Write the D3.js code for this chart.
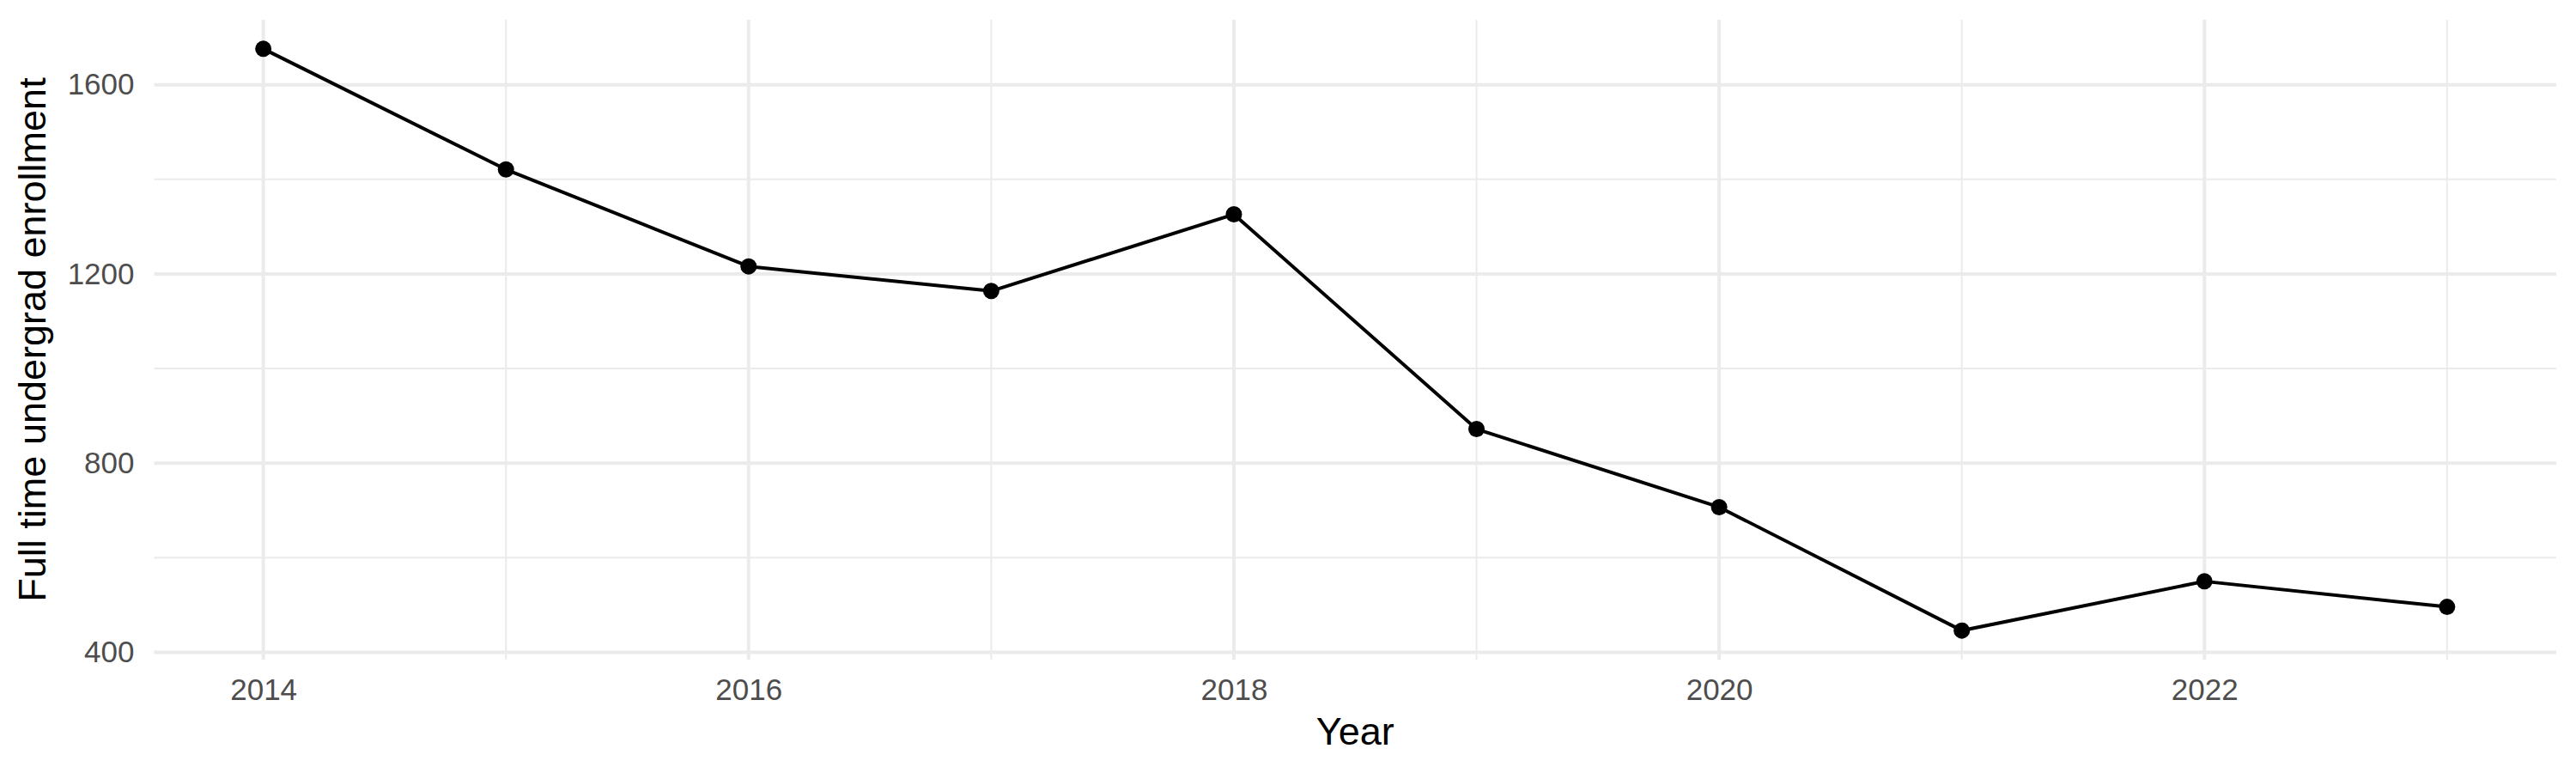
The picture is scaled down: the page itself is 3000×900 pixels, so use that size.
<!DOCTYPE html>
<html>
<head>
<meta charset="utf-8">
<script src="https://cdn.jsdelivr.net/npm/d3@7"></script>
<style>
  body { margin: 0; background: #fff; }
  text { font-family: 'Liberation Sans', Arial, sans-serif; }
</style>
</head>
<body>
<div id="chart"></div>
<script>
// Data
var years = [2014, 2015, 2016, 2017, 2018, 2019, 2020, 2021, 2022, 2023]
var enrollment = [1676, 1421, 1216, 1164, 1326, 872, 707, 446, 550, 496]
var xTicks = [2014, 2016, 2018, 2020, 2022]
var xMinor = [2015, 2017, 2019, 2021, 2023]
var yTicks = [400, 800, 1200, 1600]
var yMinor = [600, 1000, 1400]

// Settings
var width = 3000
var height = 900
var panel = { left: 179.5, right: 2977, top: 23, bottom: 768 }
var gridColor = '#EBEBEB'
var tickColor = '#4D4D4D'

var svg = d3.select('#chart').append('svg')
  .attr('width', width)
  .attr('height', height)

// ggplot-like 5% expansion on both axes
var xExt = d3.extent(years)
var xPad = (xExt[1] - xExt[0]) * 0.05
var x = d3.scaleLinear()
  .domain([xExt[0] - xPad, xExt[1] + xPad])
  .range([panel.left, panel.right])

var yExt = d3.extent(enrollment)
var yPad = (yExt[1] - yExt[0]) * 0.05
var y = d3.scaleLinear()
  .domain([yExt[0] - yPad, yExt[1] + yPad])
  .range([panel.bottom, panel.top])

// Grid: minor first, then major
var grid = svg.append('g')

grid.selectAll('.ymin').data(yMinor).enter().append('line')
  .attr('x1', panel.left).attr('x2', panel.right)
  .attr('y1', d => y(d)).attr('y2', d => y(d))
  .attr('stroke', gridColor).attr('stroke-width', 2)

grid.selectAll('.xmin').data(xMinor).enter().append('line')
  .attr('x1', d => x(d)).attr('x2', d => x(d))
  .attr('y1', panel.top).attr('y2', panel.bottom)
  .attr('stroke', gridColor).attr('stroke-width', 2)

grid.selectAll('.ymaj').data(yTicks).enter().append('line')
  .attr('x1', panel.left).attr('x2', panel.right)
  .attr('y1', d => y(d)).attr('y2', d => y(d))
  .attr('stroke', gridColor).attr('stroke-width', 4)

grid.selectAll('.xmaj').data(xTicks).enter().append('line')
  .attr('x1', d => x(d)).attr('x2', d => x(d))
  .attr('y1', panel.top).attr('y2', panel.bottom)
  .attr('stroke', gridColor).attr('stroke-width', 4)

// Axes (text only, theme_minimal has no axis lines)
var xAxis = svg.append('g')
  .attr('transform', 'translate(0,' + panel.bottom + ')')
  .call(d3.axisBottom(x).tickValues(xTicks).tickFormat(d3.format('d')).tickSize(0).tickPadding(22))
xAxis.select('.domain').remove()
xAxis.selectAll('text')
  .attr('font-size', 35)
  .attr('fill', tickColor)
  .attr('font-family', 'Liberation Sans, Arial, sans-serif')

var yAxis = svg.append('g')
  .attr('transform', 'translate(' + panel.left + ',0)')
  .call(d3.axisLeft(y).tickValues(yTicks).tickFormat(d3.format('d')).tickSize(0).tickPadding(23))
yAxis.select('.domain').remove()
yAxis.selectAll('text')
  .attr('font-size', 35)
  .attr('fill', tickColor)
  .attr('font-family', 'Liberation Sans, Arial, sans-serif')

// Line
var line = d3.line()
  .x((d, i) => x(years[i]))
  .y(d => y(d))

svg.append('path')
  .datum(enrollment)
  .attr('d', line)
  .attr('fill', 'none')
  .attr('stroke', '#000')
  .attr('stroke-width', 4)
  .attr('stroke-linejoin', 'round')

// Points
svg.selectAll('.pt').data(enrollment).enter().append('circle')
  .attr('cx', (d, i) => x(years[i]))
  .attr('cy', d => y(d))
  .attr('r', 9.5)
  .attr('fill', '#000')

// Axis titles
svg.append('text')
  .attr('x', (panel.left + panel.right) / 2)
  .attr('y', 867)
  .attr('text-anchor', 'middle')
  .attr('font-size', 45)
  .attr('fill', '#000')
  .text('Year')

svg.append('text')
  .attr('transform', 'translate(53,' + (panel.top + panel.bottom) / 2 + ') rotate(-90)')
  .attr('text-anchor', 'middle')
  .attr('font-size', 45)
  .attr('fill', '#000')
  .text('Full time undergrad enrollment')
</script>
</body>
</html>
